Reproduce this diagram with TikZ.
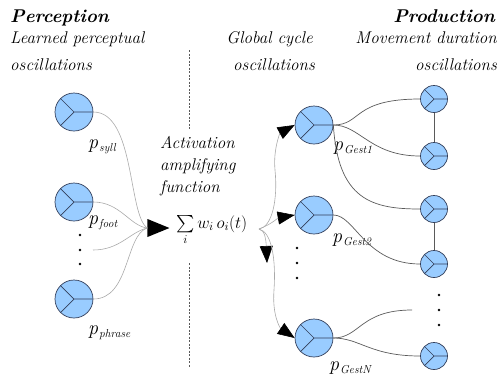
\RequirePackage{fix-cm}
\documentclass[tikz,border=0pt]{standalone}
\usepackage{exscale}
\usetikzlibrary{arrows.meta,shapes.geometric}
\definecolor{oscfill}{RGB}{153,204,255}
\definecolor{oscline}{RGB}{50,62,90}
\definecolor{lightcurve}{RGB}{170,170,170}
\definecolor{darkcurve}{RGB}{90,90,90}
\newcommand\plab[1]{{\fontsize{20}{20}\selectfont\itshape p\kern1pt\raisebox{-3.5pt}{\fontsize{11.5}{11.5}\selectfont #1}}}
\begin{document}
\begin{tikzpicture}[x=1pt,y=-1pt,
  osc/.style={circle, draw=oscline, fill=oscfill, line width=0.7pt, inner sep=0pt, minimum size=38pt,
    path picture={\draw[oscline, line width=0.7pt]
      (path picture bounding box.center) -- (path picture bounding box.east)
      (path picture bounding box.center) -- (path picture bounding box.north west)
      (path picture bounding box.center) -- (path picture bounding box.south west);}},
  smallosc/.style={osc, minimum size=27pt},
  lab/.style={anchor=base west, inner sep=0pt},
  ttl/.style={inner sep=0pt, font=\fontsize{18.5}{20}\selectfont\bfseries\itshape},
  itx/.style={inner sep=0pt, font=\fontsize{17}{18}\selectfont\itshape},
  leftline/.style={lightcurve, line width=0.6pt},
  rightline/.style={darkcurve, line width=0.7pt},
  bracel/.style={lightcurve, line width=0.6pt, -{Triangle[length=17pt,width=13pt,black]}},
  sepline/.style={darkcurve, line width=0.5pt, dash pattern=on 2pt off 1.5pt},
  dotf/.style={fill=black}
]
\useasboundingbox (0,0) rectangle (497,381);

% titles
\node[ttl, anchor=base west] (tperc) at (10,22) {Perception};
\node[ttl, anchor=base east] (tprod) at (495,22) {Production};
\node[itx, anchor=base west] (h1a) at (10,43) {Learned perceptual};
\node[itx, anchor=base west] (h1b) at (10,70) {oscillations};
\node[itx, anchor=base east] (h2a) at (313,43) {Global cycle};
\node[itx, anchor=base east] (h2b) at (315,70) {oscillations};
\node[itx, anchor=base east] (h3a) at (497,43) {Movement duration};
\node[itx, anchor=base east] (h3b) at (497,70) {oscillations};
\node[itx, anchor=base west] (act1) at (160,148) {Activation};
\node[itx, anchor=base west] (act2) at (160,170) {amplifying};
\node[itx, anchor=base west] (act3) at (160,192) {function};

% separator
\draw[sepline] (189,50) -- (189,130);
\draw[sepline] (189,263) -- (189,368);

% perception oscillators
\node[osc] (c1) at (74,112) {};
\node[osc] (c2) at (74,202) {};
\node[osc] (c3) at (74,299) {};
\node[lab] (l1) at (88,148) {\plab{syll}};
\node[lab] (l2) at (88,224) {\plab{foot}};
\node[lab] (l3) at (88,334) {\plab{phrase}};
\fill[dotf] (80,235) circle (1.4pt);
\fill[dotf] (80,250) circle (1.4pt);
\fill[dotf] (80,264) circle (1.4pt);
\coordinate (f1) at (93,250);

% amplifier
\node[isosceles triangle, isosceles triangle stretches, fill=black, inner sep=0pt,
  minimum width=18pt, minimum height=22pt, anchor=apex] (amp) at (170,228) {};
\draw[leftline] (c1.east) .. controls (135,112) and (128,215) .. (amp.west);
\draw[leftline] (c2.east) .. controls (120,202) and (130,226) .. (amp.west);
\draw[leftline] (f1) .. controls (120,250) and (130,232) .. (amp.west);
\draw[leftline] (c3.east) .. controls (130,299) and (125,235) .. (amp.west);

\node[anchor=base west, inner sep=0pt] (sum) at (176,228)
  {\fontsize{17}{17}\selectfont $\sum\limits_i w_i\, o_i(t)$};

% production global oscillators
\node[osc] (g1) at (314,125) {};
\node[osc] (g2) at (314,215) {};
\node[osc] (gN) at (314,338) {};
\node[lab] (lg1) at (333,150) {\plab{Gest1}};
\node[lab] (lg2) at (332,242) {\plab{Gest2}};
\node[lab] (lgN) at (329,370) {\plab{GestN}};
\fill[dotf] (297,248) circle (1.4pt);
\fill[dotf] (297,263) circle (1.4pt);
\fill[dotf] (297,278) circle (1.4pt);

% distribution brace
\coordinate (src) at (259,229);
\coordinate (dn) at (267,263);
\draw[bracel] (src) .. controls (272,227) and (278,200) .. (275,170)
  .. controls (273,150) and (280,133) .. (g1.west);
\draw[bracel] (src) .. controls (270,225) and (278,218) .. (g2.west);
\draw[bracel] (src) .. controls (265,230) and (266,240) .. (dn);
\draw[bracel] (src) .. controls (272,232) and (276,260) .. (274,290)
  .. controls (272,315) and (280,328) .. (gN.west);

% movement oscillators
\node[smallosc] (s1) at (434,99) {};
\node[smallosc] (s2) at (434,156) {};
\node[smallosc] (s3) at (434,209) {};
\node[smallosc] (s4) at (434,264) {};
\node[smallosc] (s5) at (434,356) {};
\fill[dotf] (439,295) circle (1.4pt);
\fill[dotf] (439,310) circle (1.4pt);
\fill[dotf] (439,325) circle (1.4pt);
\coordinate (f2) at (412,310);

\draw[rightline] (s1.south) -- (s2.north);
\draw[rightline] (s3.south) -- (s4.north);
\draw[rightline] (g1.east) .. controls (362,125) and (352,99) .. (s1.west);
\draw[rightline] (g1.east) .. controls (360,125) and (370,156) .. (s2.west);
\draw[rightline] (g1.east) .. controls (338,200) and (372,209) .. (s3.west);
\draw[rightline] (g2.east) .. controls (355,215) and (365,264) .. (s4.west);
\draw[rightline] (gN.east) .. controls (360,338) and (360,310) .. (f2);
\draw[rightline] (gN.east) .. controls (360,338) and (370,356) .. (s5.west);
\end{tikzpicture}
\end{document}
